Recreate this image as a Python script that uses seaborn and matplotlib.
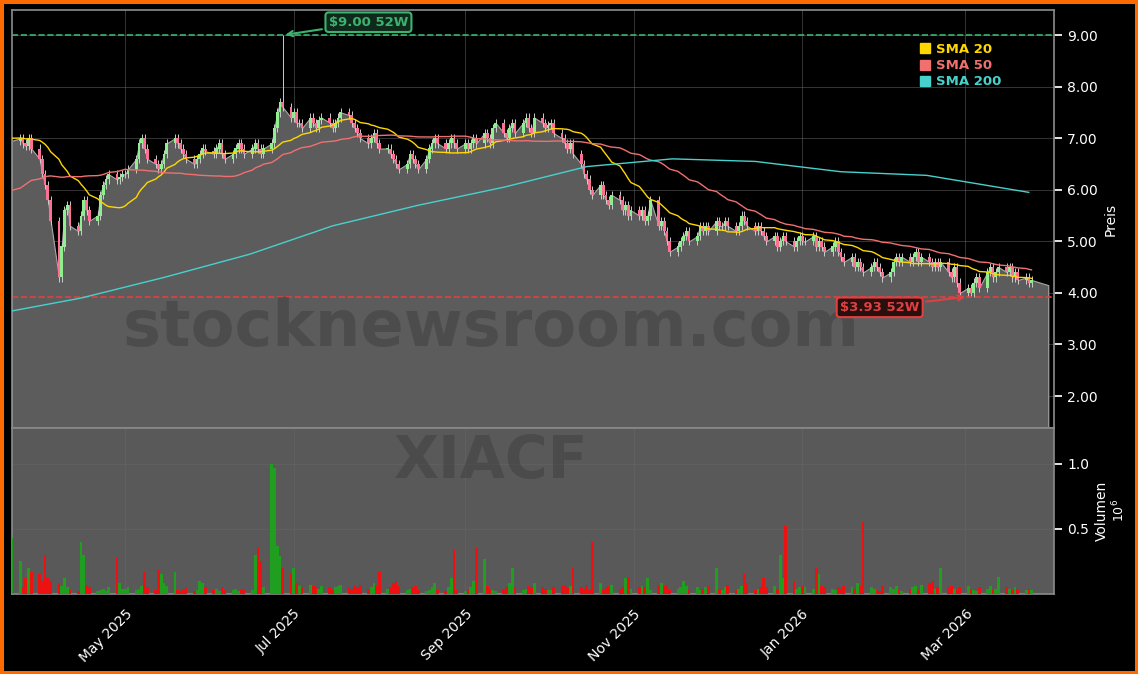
import numpy as np
import pandas as pd
import matplotlib
matplotlib.use("Agg")
import matplotlib.pyplot as plt
from matplotlib.patches import Patch
import seaborn as sns

# ---------------- data ----------------
pre_closes = [4.8, 4.9, 5.0, 4.9, 5.1, 5.0, 5.2, 5.1, 5.3, 5.2, 5.1, 5.3, 5.2, 5.4, 5.3, 5.2, 5.4, 5.5, 5.3, 5.4,
              5.2, 5.3, 5.5, 5.4, 5.3, 5.2, 5.4, 5.5, 5.6, 5.5,
              6.8, 6.9, 7.0, 7.1, 6.9, 7.0, 7.1, 7.0, 6.9, 7.0, 7.1, 7.2, 7.0, 6.9, 7.0, 7.1, 7.0, 6.9, 7.0, 6.95]
closes = [
    6.95, 7.0, 6.9, 6.85, 7.0, 6.8, 6.6,
    6.3, 6.1, 5.8, 5.4, 4.3, 4.9, 5.6, 5.7, 5.3, 5.2, 5.5, 5.8, 5.6, 5.4, 5.5, 5.9, 6.1, 6.2, 6.3, 6.2, 6.25, 6.3,
    6.3, 6.4, 6.6, 6.9, 7.0, 6.8, 6.6, 6.5, 6.4, 6.5, 6.7, 6.9, 7.0, 6.9, 6.8, 6.7, 6.6, 6.5, 6.6, 6.7, 6.8, 6.75,
    6.7, 6.8, 6.9, 6.7, 6.6, 6.7, 6.8, 6.9, 6.8, 6.7, 6.8, 6.9, 6.8, 6.7, 6.8, 6.9, 7.2, 7.5, 7.7, 7.6, 7.4, 7.5, 7.3,
    7.3, 7.2, 7.4, 7.3, 7.2, 7.35, 7.4, 7.3, 7.2, 7.3, 7.4, 7.5, 7.45, 7.3, 7.2, 7.1, 7.0, 6.9, 7.0, 7.1, 6.9, 6.8,
    6.8, 6.7, 6.6, 6.5, 6.4, 6.5, 6.7, 6.6, 6.5, 6.4, 6.6, 6.8, 6.9, 7.0, 6.9, 6.8, 6.9, 7.0, 6.9, 6.8, 6.9,
    6.8, 6.9, 7.0, 6.9, 7.1, 7.0, 6.9, 7.2, 7.3, 7.1, 7.0, 7.2, 7.3, 7.1, 7.3, 7.4, 7.2, 7.1, 7.4, 7.3, 7.2, 7.25,
    7.3, 7.1, 7.0, 6.9, 6.8, 6.9, 6.7, 6.5, 6.3, 6.2, 6.0, 5.9, 6.1, 5.9, 5.8, 5.7, 5.9, 5.8, 5.6, 5.7, 5.5, 5.6, 5.5,
    5.6, 5.4, 5.5, 5.8, 5.3, 5.4, 5.2, 5.0, 4.8, 4.9, 5.0, 5.1, 5.2, 5.0, 5.1, 5.3, 5.2, 5.3, 5.2, 5.4, 5.3,
    5.3, 5.4, 5.3, 5.2, 5.3, 5.5, 5.4, 5.3, 5.2, 5.3, 5.2, 5.1, 5.0, 5.1, 4.9, 5.0, 5.1, 5.0, 4.9, 5.0, 5.1, 5.0,
    5.0, 5.1, 4.9, 5.0, 4.9, 4.8, 4.9, 5.0, 4.8, 4.7, 4.6, 4.7, 4.5, 4.6, 4.5, 4.4, 4.5, 4.6, 4.5, 4.4, 4.3,
    4.4, 4.6, 4.7, 4.6, 4.7, 4.6, 4.7, 4.8, 4.6, 4.7, 4.6, 4.5, 4.6, 4.5, 4.6, 4.4, 4.3, 4.5, 4.2,
    4.0, 4.1, 4.0, 4.2, 4.3, 4.1, 4.4, 4.5, 4.3, 4.4, 4.5, 4.4, 4.5, 4.3, 4.4, 4.25, 4.3, 4.2, 4.25,
]
volumes = [  # millions
    0.43, 0.25, 0.05, 0.12, 0.2, 0.17, 0.15,
    0.1, 0.3, 0.12, 0.1, 0.08, 0.06, 0.12, 0.05, 0.03, 0.02, 0.4, 0.3, 0.07, 0.05, 0.02, 0.03, 0.04, 0.02, 0.05, 0.28, 0.08, 0.04,
    0.04, 0.05, 0.03, 0.04, 0.06, 0.17, 0.05, 0.03, 0.18, 0.15, 0.08, 0.06, 0.17, 0.03, 0.02, 0.04, 0.05, 0.02, 0.03, 0.1, 0.08, 0.05,
    0.03, 0.04, 0.02, 0.05, 0.03, 0.03, 0.04, 0.02, 0.03, 0.04, 0.03, 0.3, 0.35, 0.25, 0.05, 1.0, 0.97, 0.37, 0.29, 0.2, 0.15, 0.2, 0.08,
    0.06, 0.05, 0.07, 0.06, 0.05, 0.04, 0.06, 0.05, 0.03, 0.05, 0.06, 0.07, 0.05, 0.04, 0.06, 0.05, 0.07, 0.04, 0.05, 0.08, 0.07, 0.17,
    0.04, 0.05, 0.08, 0.1, 0.06, 0.03, 0.04, 0.05, 0.06, 0.03, 0.02, 0.03, 0.05, 0.08, 0.03, 0.02, 0.05, 0.12, 0.34, 0.03, 0.02,
    0.03, 0.05, 0.1, 0.35, 0.27, 0.06, 0.04, 0.03, 0.02, 0.04, 0.05, 0.08, 0.2, 0.05, 0.03, 0.04, 0.06, 0.05, 0.08, 0.05, 0.04, 0.03,
    0.03, 0.05, 0.06, 0.07, 0.05, 0.06, 0.2, 0.05, 0.04, 0.07, 0.03, 0.4, 0.08, 0.04, 0.05, 0.06, 0.07, 0.04, 0.05, 0.12, 0.13, 0.04, 0.05,
    0.06, 0.05, 0.12, 0.03, 0.07, 0.08, 0.06, 0.07, 0.03, 0.04, 0.05, 0.1, 0.06, 0.04, 0.05, 0.03, 0.04, 0.05, 0.06, 0.2, 0.04,
    0.03, 0.05, 0.07, 0.03, 0.04, 0.06, 0.15, 0.08, 0.03, 0.04, 0.05, 0.12, 0.05, 0.06, 0.04, 0.3, 0.12, 0.52, 0.1, 0.04, 0.05, 0.06,
    0.05, 0.04, 0.2, 0.15, 0.06, 0.05, 0.04, 0.03, 0.05, 0.04, 0.06, 0.05, 0.04, 0.08, 0.06, 0.55, 0.05, 0.04, 0.03, 0.02, 0.06,
    0.05, 0.04, 0.06, 0.03, 0.02, 0.04, 0.05, 0.06, 0.03, 0.07, 0.08, 0.1, 0.04, 0.05, 0.2, 0.05, 0.06, 0.04, 0.03,
    0.05, 0.06, 0.04, 0.03, 0.02, 0.05, 0.04, 0.06, 0.03, 0.04, 0.13, 0.05, 0.04, 0.03, 0.05, 0.04, 0.03, 0.04, 0.03,
]
sma200_dates = ["2025-03-21", "2025-04-15", "2025-05-15", "2025-06-15", "2025-07-15", "2025-08-15",
                "2025-09-15", "2025-10-15", "2025-11-15", "2025-12-15", "2026-01-15", "2026-02-15", "2026-03-24"]
sma200_vals = [3.65, 3.9, 4.3, 4.75, 5.3, 5.7, 6.05, 6.45, 6.6, 6.55, 6.35, 6.28, 5.95]
spike_date = "2025-06-27"
spike_high = 9.00
high_52w = 9.00
low_52w = 3.93
low_date = "2026-03-02"
tick_labels = ["May 2025", "Jul 2025", "Sep 2025", "Nov 2025", "Jan 2026", "Mar 2026"]
tick_dates = ["2025-05-01", "2025-07-01", "2025-09-01", "2025-11-01", "2026-01-01", "2026-03-01"]

# ---------------- prep ----------------
n = min(len(closes), len(volumes))
closes = closes[:n]; volumes = volumes[:n]
dates = pd.bdate_range("2025-03-21", periods=n)
allc = pd.Series(pre_closes + closes)
sma20 = allc.rolling(20).mean().values[len(pre_closes):]
sma50 = allc.rolling(50).mean().values[len(pre_closes):]
opens = np.array([pre_closes[-1]] + closes[:-1])
cl = np.array(closes)
highs = np.maximum(opens, cl) + 0.08
lows = np.minimum(opens, cl) - 0.08
si = dates.get_indexer([pd.Timestamp(spike_date)], method="nearest")[0]
highs[si] = spike_high
up = cl >= opens
df = pd.DataFrame({"date": dates, "close": cl, "sma20": sma20, "sma50": sma50})

# ---------------- figure ----------------
sns.set_theme(style="dark")
plt.rcParams["font.family"] = ["DejaVu Sans"]
fig = plt.figure(figsize=(11.38, 6.74), dpi=100, facecolor="black")
fig.patch.set_edgecolor("#ff6a00"); fig.patch.set_linewidth(5)
ax = fig.add_axes([0.0105, 0.365, 0.9155, 0.62])
axv = fig.add_axes([0.0105, 0.119, 0.9155, 0.246], sharex=ax)

for a in (ax, axv):
    a.set_facecolor("black")
    a.grid(True, color="#666666", linewidth=0.6, alpha=0.6)
    a.yaxis.tick_right(); a.yaxis.set_label_position("right")
    a.tick_params(colors="white", labelsize=10)
    for s in a.spines.values():
        s.set_color("#888888")
axv.set_facecolor("#595959")

fill_x = list(dates) + [pd.Timestamp("2026-03-31")]
fill_y = list(cl) + [4.15]
ax.fill_between(fill_x, fill_y, 0, color="#5c5c5c", edgecolor="#aaaaaa", linewidth=0.8, zorder=1)

w = 1.0
ax.vlines(dates, lows, highs, color="#cccccc", linewidth=0.7, zorder=2)
ax.bar(dates[up], (cl - opens)[up] + 0.001, bottom=opens[up], width=w, color="#90ee90",
       edgecolor="none", linewidth=0, zorder=3)
ax.bar(dates[~up], (cl - opens)[~up], bottom=opens[~up], width=w, color="#ff7096",
       edgecolor="none", linewidth=0, zorder=3)

sns.lineplot(data=df, x="date", y="sma20", ax=ax, color="#ffd700", linewidth=1, zorder=4)
sns.lineplot(data=df, x="date", y="sma50", ax=ax, color="#f07070", linewidth=1, zorder=4)
ax.plot(pd.to_datetime(sma200_dates), sma200_vals, color="#48d1cc", linewidth=1, zorder=4)

ax.axhline(high_52w, color="#3cb371", linestyle="--", linewidth=1.2)
ax.axhline(low_52w, color="#e04040", linestyle="--", linewidth=1.2)
ax.annotate(f"${high_52w:.2f} 52W", xy=(dates[si], high_52w),
            xytext=(pd.Timestamp("2025-07-28"), 9.25), color="#3cb371", fontsize=9.5, fontweight="bold",
            ha="center", va="center",
            bbox=dict(boxstyle="round,pad=0.25", fc="#0f2a1a", ec="#3cb371", lw=1.5),
            arrowprops=dict(arrowstyle="->", color="#3cb371", lw=1.5))
ax.annotate(f"${low_52w:.2f} 52W", xy=(pd.Timestamp(low_date), low_52w),
            xytext=(pd.Timestamp("2026-01-29"), 3.72), color="#e04040", fontsize=9.5, fontweight="bold",
            ha="center", va="center", zorder=6,
            bbox=dict(boxstyle="round,pad=0.25", fc="#2a0f0f", ec="#e04040", lw=1.5),
            arrowprops=dict(arrowstyle="->", color="#e04040", lw=1.5))

ax.text(0.46, 0.24, "stocknewsroom.com", transform=ax.transAxes, fontsize=46, fontweight="bold",
        color="#3a3a3a", alpha=0.45, ha="center", va="center", zorder=5)
axv.text(0.46, 0.8, "XIACF", transform=axv.transAxes, fontsize=42, fontweight="bold",
         color="#3a3a3a", alpha=0.45, ha="center", va="center", zorder=5)

handles = [Patch(color="#ffd700"), Patch(color="#f07070"), Patch(color="#48d1cc")]
labels = ["SMA 20", "SMA 50", "SMA 200"]
leg = ax.legend(handles, labels, loc="upper left", bbox_to_anchor=(0.86, 0.95), frameon=False,
                handlelength=0.8, handleheight=0.8, handletextpad=0.4, labelspacing=0.25,
                prop={"weight": "bold", "size": 9.5})
for t, c in zip(leg.get_texts(), ["#ffd700", "#f07070", "#48d1cc"]):
    t.set_color(c)

ax.set_ylim(1.38, 9.485)
ax.set_yticks([2, 3, 4, 5, 6, 7, 8, 9])
ax.yaxis.set_major_formatter(matplotlib.ticker.FormatStrFormatter("%.2f"))
ax.set_ylabel("Preis", color="white", fontsize=10)
ax.set_xlabel("")
plt.setp(ax.get_xticklabels(), visible=False)

vcolors = ["#1f9e1f" if u else "#ee1111" for u in up]
axv.bar(dates, volumes, width=1.0, color=vcolors, edgecolor="none", linewidth=0, zorder=3)
axv.set_ylim(0, 1.277)
axv.set_yticks([0.5, 1.0])
axv.set_ylabel("Volumen", color="white", fontsize=10)
axv.text(1.055, 0.5, r"$10^6$", transform=axv.transAxes, color="white", fontsize=9, rotation=90, va="center")
axv.set_xlim(pd.Timestamp("2025-03-21"), pd.Timestamp("2026-04-02"))
axv.set_xticks(pd.to_datetime(tick_dates))
axv.set_xticklabels(tick_labels, rotation=45, ha="right", rotation_mode="anchor", color="white")

fig.savefig("out.png", dpi=100, facecolor="black", edgecolor=fig.patch.get_edgecolor())
